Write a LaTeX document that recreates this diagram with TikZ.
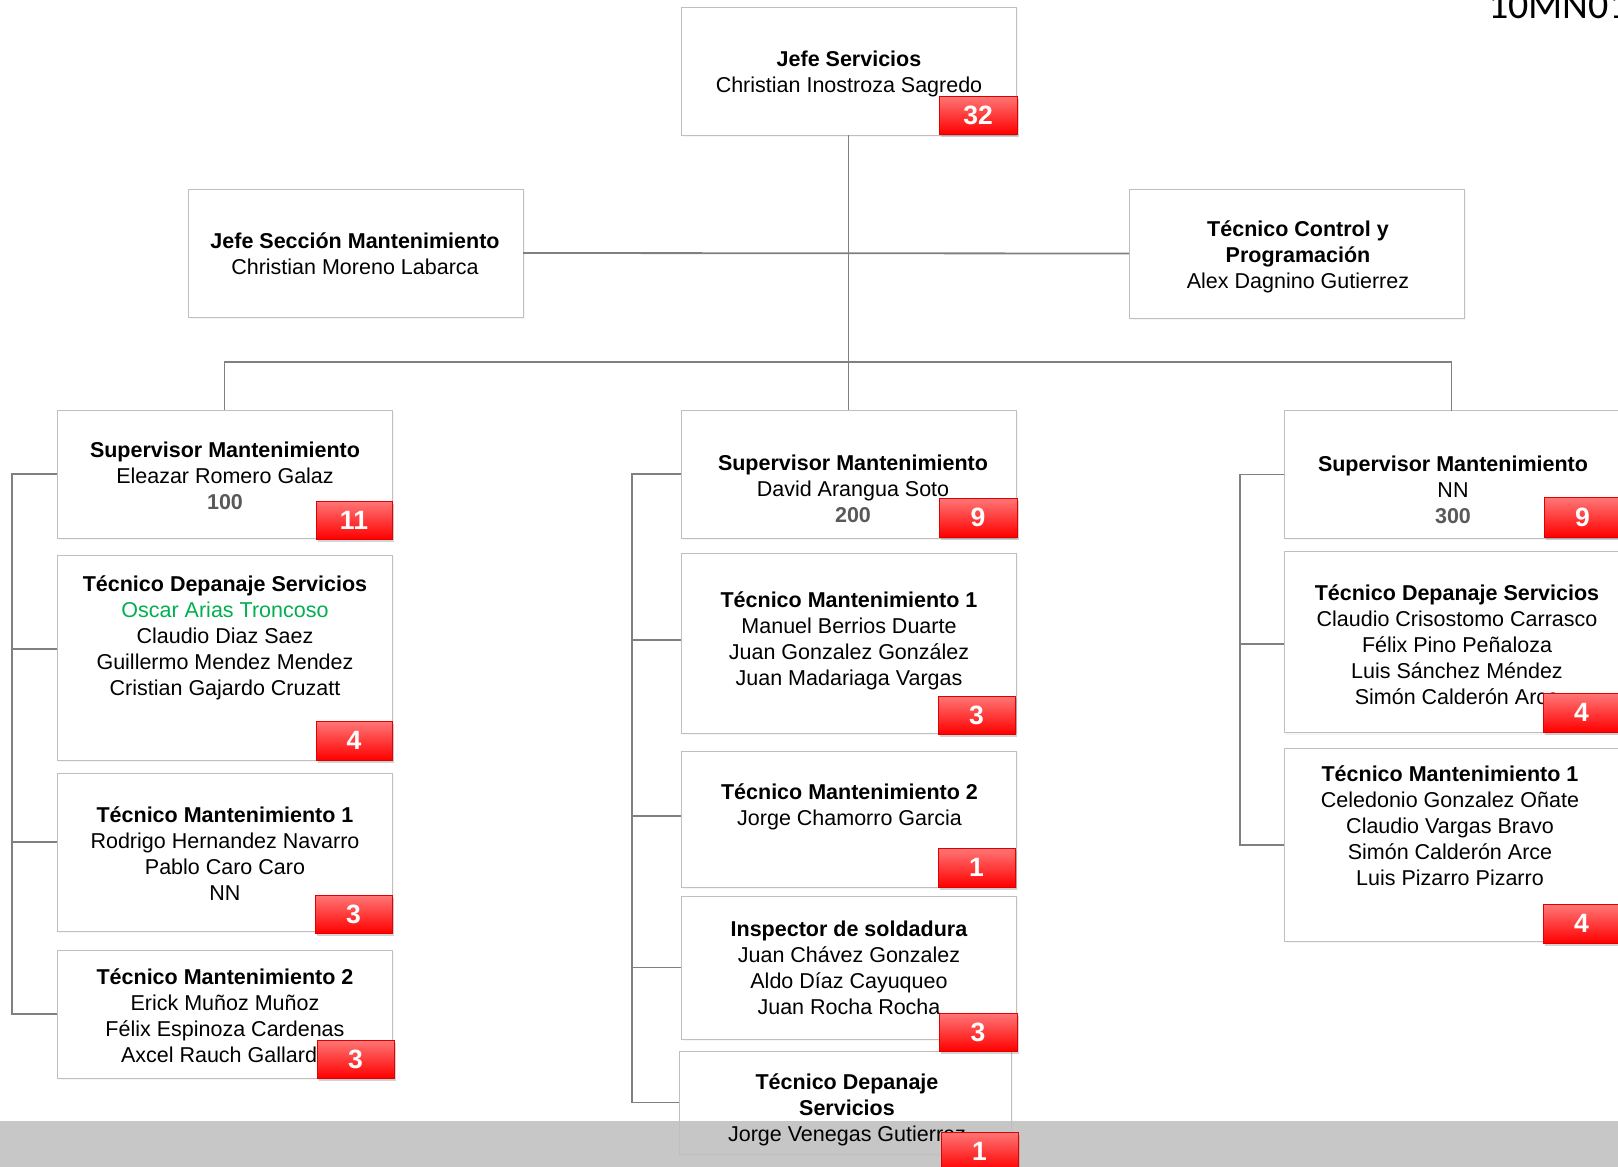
\documentclass[tikz,border=0pt]{standalone}
\usepackage{fontspec}
\setmainfont{Liberation Sans}
\newfontfamily\calfont{Carlito}
\usetikzlibrary{shadows}
\definecolor{boxline}{HTML}{BFBFBF}
\definecolor{connline}{HTML}{808080}
\definecolor{badgetop}{HTML}{FF7777}
\definecolor{badgebot}{HTML}{FF0000}
\definecolor{badgeline}{HTML}{E00000}
\definecolor{numgray}{HTML}{595959}
\definecolor{namegreen}{HTML}{00B050}
\definecolor{bandgray}{HTML}{BFBFBF}
\newcommand{\mkbox}[5]{\node[orgbox, minimum width={#4-#2}, minimum height={#5-#3}] (#1) at ({(#2+#4)/2},{(#3+#5)/2}) {};}
\newcommand{\mkbadge}[6]{\node[badge, minimum width={#4-#2}, minimum height={#5-#3}] (#1) at ({(#2+#4)/2},{(#3+#5)/2}) {#6};}
\tikzset{
  orgbox/.style={draw=boxline, line width=1pt, fill=white, inner sep=0pt, outer sep=0pt,
    drop shadow={opacity=0.08, shadow xshift=2pt, shadow yshift=-2pt}},
  badge/.style={draw=badgeline, line width=0.8pt, top color=badgetop, bottom color=badgebot,
    text=white, font=\fontsize{26.5}{30}\selectfont\bfseries, inner sep=0pt, outer sep=0pt,
    drop shadow={opacity=0.35, shadow xshift=1.5pt, shadow yshift=-3pt}},
  txt/.style={align=center, inner sep=0pt, font=\fontsize{21.5}{26}\selectfont,
    execute at begin node=\strut, execute at end node=\strut},
  conn/.style={draw=connline, line width=1.8pt},
}
\begin{document}
\begin{tikzpicture}[x=1pt, y=-1pt]
\useasboundingbox (0,0) rectangle (1618,1167);
% boxes
\mkbox{top}{681}{7}{1016}{135}
\mkbox{js}{188}{189}{523}{317}
\mkbox{tc}{1129}{189}{1464}{318}
\mkbox{l1}{57}{410}{392}{538}
\mkbox{l2}{57}{555}{392}{760}
\mkbox{l3}{57}{773}{392}{931}
\mkbox{l4}{57}{950}{392}{1078}
\mkbox{m1}{681}{410}{1016}{538}
\mkbox{m2}{681}{553}{1016}{733}
\mkbox{m3}{681}{751}{1016}{887}
\mkbox{m4}{681}{896}{1016}{1039}
\mkbox{m5}{679}{1051}{1011}{1154}
\mkbox{r1}{1284}{410.7}{1619}{538.2}
\mkbox{r2}{1284}{551.8}{1619}{732.9}
\mkbox{r3}{1284}{748.2}{1619}{941}
% helper coordinates
\coordinate (hbar) at (0,362);
\coordinate (lbus) at (12,0);
\coordinate (mbus) at (632,0);
\coordinate (rbus) at (1240,0);
% connectors
\draw[conn] (top.south) -- (m1.north);
\draw[conn] (js.east) -- (tc.west);
\draw[conn] (l1.north) -- (l1.north |- hbar) -- (r1.north |- hbar) -- (r1.north);
\draw[conn] (l1.west) -- (l1.west -| lbus) -- (l4.west -| lbus) -- (l4.west);
\draw[conn] ([yshift=8.5pt]l2.west) -- ([yshift=8.5pt]l2.west -| lbus);
\draw[conn] ([yshift=10pt]l3.west) -- ([yshift=10pt]l3.west -| lbus);
\draw[conn] (m1.west) -- (m1.west -| mbus) -- (m5.west -| mbus) -- (m5.west);
\draw[conn] ([yshift=3pt]m2.west) -- ([yshift=3pt]m2.west -| mbus);
\draw[conn] ([yshift=3pt]m3.west) -- ([yshift=3pt]m3.west -| mbus);
\draw[conn] (m4.west) -- (m4.west -| mbus);
\draw[conn] (r1.west) -- (r1.west -| rbus) -- (r3.west -| rbus) -- (r3.west);
\draw[conn] ([yshift=-1.7pt]r2.west) -- ([yshift=-1.7pt]r2.west -| rbus);
% bottom band
\fill[bandgray, fill opacity=0.88] (0,1121) rectangle (1618,1167);
% texts
\node[txt] (t-top) at (849,75.6) {\textbf{Jefe Servicios}\\Christian Inostroza Sagredo};
\node[txt] (t-js) at (355,257.6) {\textbf{Jefe Sección Mantenimiento}\\Christian Moreno Labarca};
\node[txt] (t-tc) at (1298,258.6) {\textbf{Técnico Control y}\\\textbf{Programación}\\Alex Dagnino Gutierrez};
\node[txt] (t-l1) at (225,479.6) {\textbf{Supervisor Mantenimiento}\\Eleazar Romero Galaz\\\textcolor{numgray}{\textbf{100}}};
\node[txt] (t-l2) at (225,639.6) {\textbf{Técnico Depanaje Servicios}\\\textcolor{namegreen}{Oscar Arias Troncoso}\\Claudio Diaz Saez\\Guillermo Mendez Mendez\\Cristian Gajardo Cruzatt};
\node[txt] (t-l3) at (225,857.6) {\textbf{Técnico Mantenimiento 1}\\Rodrigo Hernandez Navarro\\Pablo Caro Caro\\NN};
\node[txt] (t-l4) at (225,1019.6) {\textbf{Técnico Mantenimiento 2}\\Erick Muñoz Muñoz\\Félix Espinoza Cardenas\\Axcel Rauch Gallardo};
\node[txt] (t-m1) at (853,492.6) {\textbf{Supervisor Mantenimiento}\\David Arangua Soto\\\textcolor{numgray}{\textbf{200}}};
\node[txt] (t-m2) at (849,642.6) {\textbf{Técnico Mantenimiento 1}\\Manuel Berrios Duarte\\Juan Gonzalez González\\Juan Madariaga Vargas};
\node[txt] (t-m3) at (849.5,808.1) {\textbf{Técnico Mantenimiento 2}\\Jorge Chamorro Garcia};
\node[txt] (t-m4) at (849,972.1) {\textbf{Inspector de soldadura}\\Juan Chávez Gonzalez\\Aldo Díaz Cayuqueo\\Juan Rocha Rocha};
\node[txt] (t-m5) at (847,1111.2) {\textbf{Técnico Depanaje}\\\textbf{Servicios}\\Jorge Venegas Gutierrez};
\node[txt] (t-r1) at (1453,493.6) {\textbf{Supervisor Mantenimiento}\\NN\\\textcolor{numgray}{\textbf{300}}};
\node[txt] (t-r2) at (1457,648.9) {\textbf{Técnico Depanaje Servicios}\\Claudio Crisostomo Carrasco\\Félix Pino Peñaloza\\Luis Sánchez Méndez\\Simón Calderón Arce};
\node[txt] (t-r3) at (1450,829.9) {\textbf{Técnico Mantenimiento 1}\\Celedonio Gonzalez Oñate\\Claudio Vargas Bravo\\Simón Calderón Arce\\Luis Pizarro Pizarro};
% badges
\mkbadge{b-top}{939}{96}{1017}{134}{32}
\mkbadge{b-l1}{316}{501}{392}{539}{11}
\mkbadge{b-l2}{316}{721}{392}{760}{4}
\mkbadge{b-l3}{315}{895}{392}{933}{3}
\mkbadge{b-l4}{317}{1040}{394}{1078}{3}
\mkbadge{b-m1}{939}{498}{1017}{537}{9}
\mkbadge{b-m2}{938}{696}{1015}{734}{3}
\mkbadge{b-m3}{938}{848}{1015}{887}{1}
\mkbadge{b-m4}{939}{1013}{1017}{1051}{3}
\mkbadge{b-m5}{941}{1132}{1018}{1170}{1}
\mkbadge{b-r1}{1544}{497.5}{1621}{537}{9}
\mkbadge{b-r2}{1543}{693}{1620}{732}{4}
\mkbadge{b-r3}{1543}{904.6}{1620}{943}{4}
% corner code
\node[anchor=base west, inner sep=0pt, font=\calfont\fontsize{40}{44}\selectfont] (code) at (1488,19) {10MN01};
\end{tikzpicture}
\end{document}
